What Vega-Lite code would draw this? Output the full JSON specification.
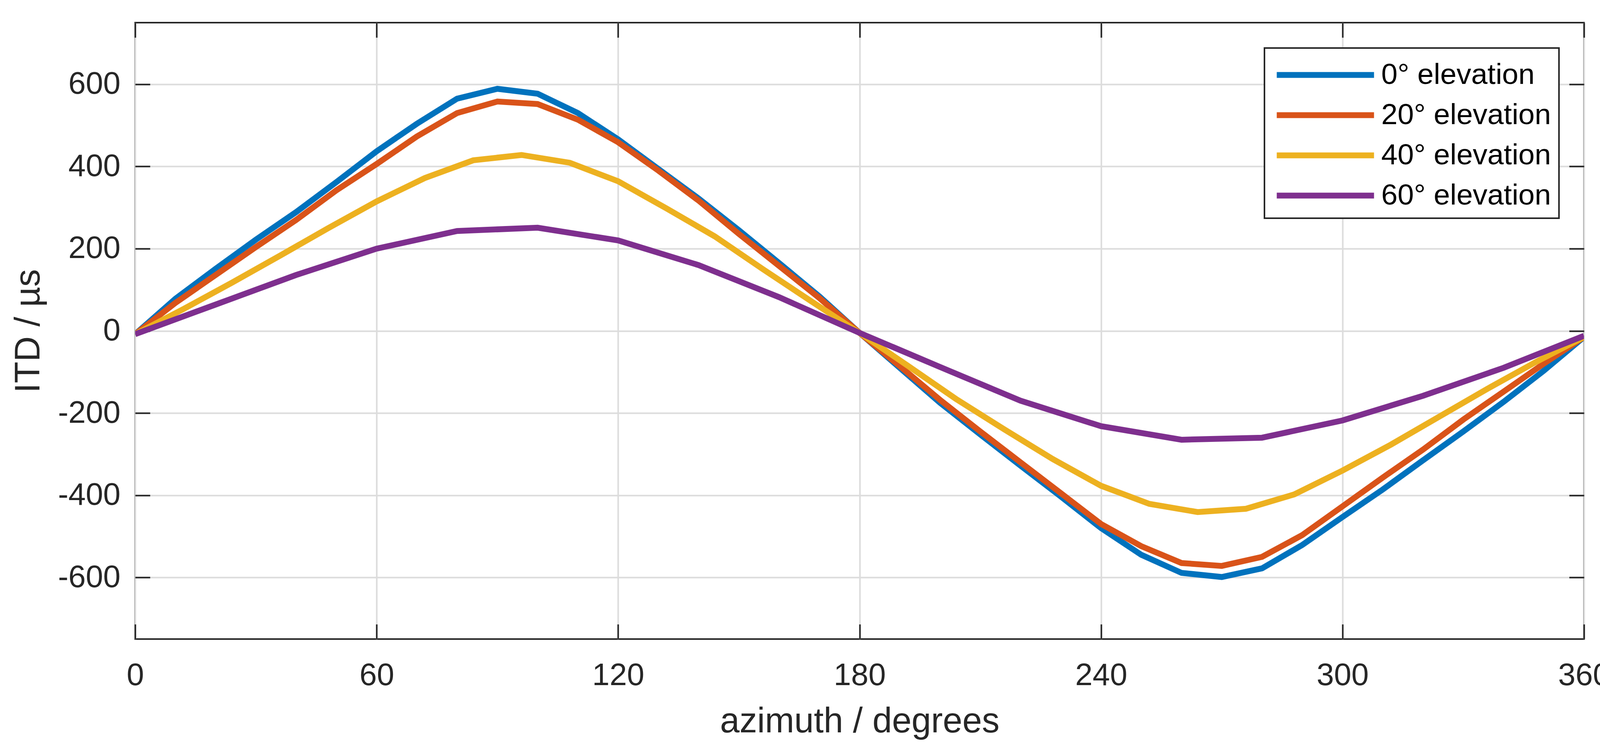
{
  "$schema": "https://vega.github.io/schema/vega-lite/v6.json",
  "autosize": {"type": "fit", "contains": "padding"},
  "width": 4177,
  "height": 1934,
  "padding": {"left": 28, "top": 56, "right": 55, "bottom": 41},
  "background": "#ffffff",
  "config": {
    "font": "Liberation Sans",
    "view": {"stroke": "#262626", "strokeWidth": 4},
    "axis": {
      "labelFont": "Liberation Sans",
      "titleFont": "Liberation Sans",
      "labelColor": "#262626",
      "titleColor": "#262626",
      "tickColor": "#262626",
      "labelFontSize": 80,
      "labelLimit": 0,
      "titleFontSize": 90,
      "titleFontWeight": "normal",
      "tickWidth": 4,
      "tickSize": -38,
      "domain": false,
      "gridColor": "#dcdcdc",
      "gridWidth": 4
    },
    "legend": {
      "strokeColor": "#262626",
      "strokeWidth": 4,
      "fillColor": "#ffffff",
      "padding": 20
    }
  },
  "data": {
    "values": [
      {"elevation": 0, "azimuth": 0, "itd": -8},
      {"elevation": 0, "azimuth": 10, "itd": 78},
      {"elevation": 0, "azimuth": 20, "itd": 151},
      {"elevation": 0, "azimuth": 30, "itd": 222},
      {"elevation": 0, "azimuth": 40, "itd": 289},
      {"elevation": 0, "azimuth": 50, "itd": 362},
      {"elevation": 0, "azimuth": 60, "itd": 437},
      {"elevation": 0, "azimuth": 70, "itd": 504},
      {"elevation": 0, "azimuth": 80, "itd": 565},
      {"elevation": 0, "azimuth": 90, "itd": 589},
      {"elevation": 0, "azimuth": 100, "itd": 577},
      {"elevation": 0, "azimuth": 110, "itd": 530},
      {"elevation": 0, "azimuth": 120, "itd": 466},
      {"elevation": 0, "azimuth": 130, "itd": 394},
      {"elevation": 0, "azimuth": 140, "itd": 322},
      {"elevation": 0, "azimuth": 150, "itd": 245},
      {"elevation": 0, "azimuth": 160, "itd": 165},
      {"elevation": 0, "azimuth": 170, "itd": 84},
      {"elevation": 0, "azimuth": 180, "itd": -5},
      {"elevation": 0, "azimuth": 190, "itd": -90},
      {"elevation": 0, "azimuth": 200, "itd": -175},
      {"elevation": 0, "azimuth": 210, "itd": -252},
      {"elevation": 0, "azimuth": 220, "itd": -328},
      {"elevation": 0, "azimuth": 230, "itd": -403},
      {"elevation": 0, "azimuth": 240, "itd": -480},
      {"elevation": 0, "azimuth": 250, "itd": -545},
      {"elevation": 0, "azimuth": 260, "itd": -589},
      {"elevation": 0, "azimuth": 270, "itd": -599},
      {"elevation": 0, "azimuth": 280, "itd": -578},
      {"elevation": 0, "azimuth": 290, "itd": -521},
      {"elevation": 0, "azimuth": 300, "itd": -453},
      {"elevation": 0, "azimuth": 310, "itd": -386},
      {"elevation": 0, "azimuth": 320, "itd": -315},
      {"elevation": 0, "azimuth": 330, "itd": -245},
      {"elevation": 0, "azimuth": 340, "itd": -173},
      {"elevation": 0, "azimuth": 350, "itd": -97},
      {"elevation": 0, "azimuth": 360, "itd": -15},
      {"elevation": 20, "azimuth": 0, "itd": -8},
      {"elevation": 20, "azimuth": 10, "itd": 68},
      {"elevation": 20, "azimuth": 20, "itd": 136},
      {"elevation": 20, "azimuth": 30, "itd": 204},
      {"elevation": 20, "azimuth": 40, "itd": 270},
      {"elevation": 20, "azimuth": 50, "itd": 342},
      {"elevation": 20, "azimuth": 60, "itd": 406},
      {"elevation": 20, "azimuth": 70, "itd": 473},
      {"elevation": 20, "azimuth": 80, "itd": 530},
      {"elevation": 20, "azimuth": 90, "itd": 558},
      {"elevation": 20, "azimuth": 100, "itd": 552},
      {"elevation": 20, "azimuth": 110, "itd": 514},
      {"elevation": 20, "azimuth": 120, "itd": 459},
      {"elevation": 20, "azimuth": 130, "itd": 390},
      {"elevation": 20, "azimuth": 140, "itd": 317},
      {"elevation": 20, "azimuth": 150, "itd": 236},
      {"elevation": 20, "azimuth": 160, "itd": 158},
      {"elevation": 20, "azimuth": 170, "itd": 80},
      {"elevation": 20, "azimuth": 180, "itd": -5},
      {"elevation": 20, "azimuth": 190, "itd": -86},
      {"elevation": 20, "azimuth": 200, "itd": -168},
      {"elevation": 20, "azimuth": 210, "itd": -245},
      {"elevation": 20, "azimuth": 220, "itd": -320},
      {"elevation": 20, "azimuth": 230, "itd": -395},
      {"elevation": 20, "azimuth": 240, "itd": -470},
      {"elevation": 20, "azimuth": 250, "itd": -524},
      {"elevation": 20, "azimuth": 260, "itd": -565},
      {"elevation": 20, "azimuth": 270, "itd": -572},
      {"elevation": 20, "azimuth": 280, "itd": -550},
      {"elevation": 20, "azimuth": 290, "itd": -497},
      {"elevation": 20, "azimuth": 300, "itd": -427},
      {"elevation": 20, "azimuth": 310, "itd": -357},
      {"elevation": 20, "azimuth": 320, "itd": -289},
      {"elevation": 20, "azimuth": 330, "itd": -216},
      {"elevation": 20, "azimuth": 340, "itd": -148},
      {"elevation": 20, "azimuth": 350, "itd": -80},
      {"elevation": 20, "azimuth": 360, "itd": -15},
      {"elevation": 40, "azimuth": 0, "itd": -8},
      {"elevation": 40, "azimuth": 12, "itd": 53},
      {"elevation": 40, "azimuth": 24, "itd": 117},
      {"elevation": 40, "azimuth": 36, "itd": 183},
      {"elevation": 40, "azimuth": 48, "itd": 250},
      {"elevation": 40, "azimuth": 60, "itd": 315},
      {"elevation": 40, "azimuth": 72, "itd": 372},
      {"elevation": 40, "azimuth": 84, "itd": 415},
      {"elevation": 40, "azimuth": 96, "itd": 428},
      {"elevation": 40, "azimuth": 108, "itd": 409},
      {"elevation": 40, "azimuth": 120, "itd": 364},
      {"elevation": 40, "azimuth": 132, "itd": 298},
      {"elevation": 40, "azimuth": 144, "itd": 230},
      {"elevation": 40, "azimuth": 156, "itd": 150},
      {"elevation": 40, "azimuth": 168, "itd": 72},
      {"elevation": 40, "azimuth": 180, "itd": -5},
      {"elevation": 40, "azimuth": 192, "itd": -85},
      {"elevation": 40, "azimuth": 204, "itd": -166},
      {"elevation": 40, "azimuth": 216, "itd": -240},
      {"elevation": 40, "azimuth": 228, "itd": -312},
      {"elevation": 40, "azimuth": 240, "itd": -377},
      {"elevation": 40, "azimuth": 252, "itd": -421},
      {"elevation": 40, "azimuth": 264, "itd": -441},
      {"elevation": 40, "azimuth": 276, "itd": -433},
      {"elevation": 40, "azimuth": 288, "itd": -398},
      {"elevation": 40, "azimuth": 300, "itd": -340},
      {"elevation": 40, "azimuth": 312, "itd": -277},
      {"elevation": 40, "azimuth": 324, "itd": -209},
      {"elevation": 40, "azimuth": 336, "itd": -141},
      {"elevation": 40, "azimuth": 348, "itd": -76},
      {"elevation": 40, "azimuth": 360, "itd": -15},
      {"elevation": 60, "azimuth": 0, "itd": -8},
      {"elevation": 60, "azimuth": 20, "itd": 64},
      {"elevation": 60, "azimuth": 40, "itd": 136},
      {"elevation": 60, "azimuth": 60, "itd": 200},
      {"elevation": 60, "azimuth": 80, "itd": 243},
      {"elevation": 60, "azimuth": 100, "itd": 251},
      {"elevation": 60, "azimuth": 120, "itd": 220},
      {"elevation": 60, "azimuth": 140, "itd": 160},
      {"elevation": 60, "azimuth": 160, "itd": 82},
      {"elevation": 60, "azimuth": 180, "itd": -5},
      {"elevation": 60, "azimuth": 200, "itd": -88},
      {"elevation": 60, "azimuth": 220, "itd": -170},
      {"elevation": 60, "azimuth": 240, "itd": -232},
      {"elevation": 60, "azimuth": 260, "itd": -265},
      {"elevation": 60, "azimuth": 280, "itd": -260},
      {"elevation": 60, "azimuth": 300, "itd": -218},
      {"elevation": 60, "azimuth": 320, "itd": -158},
      {"elevation": 60, "azimuth": 340, "itd": -90},
      {"elevation": 60, "azimuth": 360, "itd": -12}
    ]
  },
  "layer": [
    {
      "mark": {"type": "line", "strokeWidth": 15, "clip": true},
      "encoding": {
        "x": {
          "field": "azimuth",
          "type": "quantitative",
          "scale": {"domain": [0, 360], "nice": false, "zero": false},
          "axis": {
            "title": "azimuth / degrees",
            "values": [0, 60, 120, 180, 240, 300, 360],
            "labelBaseline": "alphabetic",
            "labelPadding": 155,
            "labelFlush": false,
            "titleBaseline": "alphabetic",
            "titleY": 238,
            "grid": true
          }
        },
        "y": {
          "field": "itd",
          "type": "quantitative",
          "scale": {"domain": [-750, 750], "nice": false, "zero": false},
          "axis": {
            "title": "ITD / µs",
            "values": [-600, -400, -200, 0, 200, 400, 600],
            "labelExpr": "'' + datum.value",
            "labelPadding": 76,
            "labelFlush": false,
            "titleBaseline": "alphabetic",
            "titleX": -246,
            "grid": true
          }
        },
        "color": {
          "field": "elevation",
          "type": "nominal",
          "scale": {
            "domain": [0, 20, 40, 60],
            "range": ["#0072BD", "#D95319", "#EDB120", "#7E2F8E"]
          },
          "legend": {
            "title": null,
            "orient": "none",
            "direction": "vertical",
            "legendX": 2891,
            "legendY": 65,
            "labelExpr": "datum.label + '° elevation'",
            "labelFont": "Liberation Sans",
            "labelFontSize": 75,
            "labelLimit": 0,
            "labelColor": "#000000",
            "symbolType": "M-3,0L3,0",
            "symbolSize": 6889,
            "symbolStrokeWidth": 15,
            "symbolOffset": 87,
            "labelOffset": 94,
            "rowPadding": 16
          }
        }
      }
    },
    {
      "mark": {"type": "line", "opacity": 0},
      "encoding": {
        "x": {
          "field": "azimuth",
          "type": "quantitative",
          "axis": {
            "orient": "top",
            "title": null,
            "labels": false,
            "grid": false,
            "values": [0, 60, 120, 180, 240, 300, 360]
          }
        },
        "y": {
          "field": "itd",
          "type": "quantitative",
          "axis": {
            "orient": "right",
            "title": null,
            "labels": false,
            "grid": false,
            "values": [-600, -400, -200, 0, 200, 400, 600]
          }
        },
        "detail": {"field": "elevation", "type": "nominal"}
      }
    }
  ],
  "resolve": {"axis": {"x": "independent", "y": "independent"}}
}
